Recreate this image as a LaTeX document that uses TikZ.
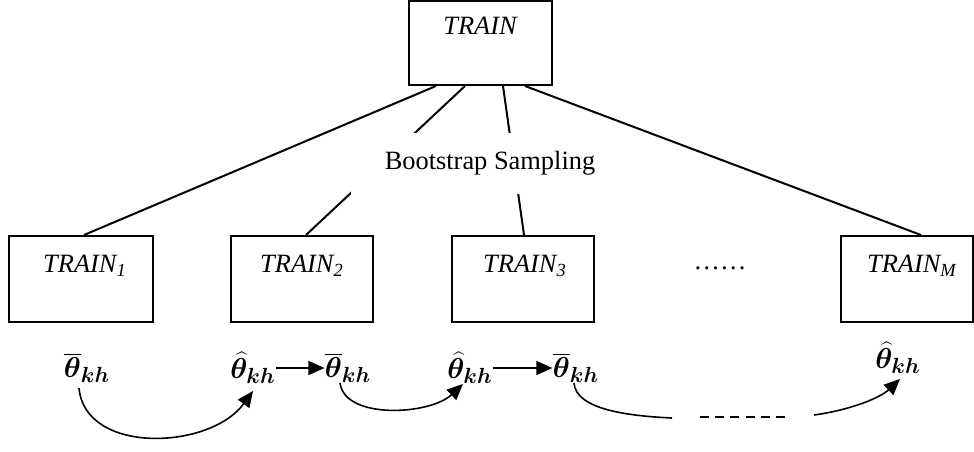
\documentclass[tikz,border=0pt]{standalone}
\usepackage{fontspec}
\setmainfont{Liberation Serif}
\usepackage{bm}
\usetikzlibrary{arrows.meta,calc,backgrounds}
\newcommand{\subkh}{\mbox{\fontsize{10.5}{12}\selectfont$\bm{kh}$}}
\newcommand{\thbar}{$\bm{\overline{\theta}}_{\subkh}$}
\newcommand{\thhat}{$\bm{\widehat{\theta}}_{\subkh}$}
\begin{document}
\begin{tikzpicture}[x=0.5pt,y=-0.5pt,
 box/.style={draw,line width=1pt,inner sep=0pt,minimum height=43pt},
 lbl/.style={font=\fontsize{13.2}{15}\selectfont\itshape,inner sep=0pt},
 conn/.style={line width=1pt},
 th/.style={inner sep=0pt,font=\fontsize{14.5}{17}\selectfont},
 arr/.style={line width=0.8pt,-{Triangle[length=8pt,width=7pt]}}]
\useasboundingbox (0,0) rectangle (974,451);
% boxes
\node[box,minimum width=71.5pt,minimum height=42pt] (top) at (480.5,43) {};
\node[box,minimum width=72pt] (b1) at (81,279) {};
\node[box,minimum width=71pt] (b2) at (302,279) {};
\node[box,minimum width=71pt] (b3) at (523,279) {};
\node[box,minimum width=66pt] (bm) at (907,279) {};
% labels
\node[lbl] (ltop) at (480,26) {TRAIN};
\node[lbl] (l1) at (85,266) {TRAIN\textsubscript{1}};
\node[lbl] (l2) at (302,266) {TRAIN\textsubscript{2}};
\node[lbl] (l3) at (525,266) {TRAIN\textsubscript{3}};
\node[lbl] (lm) at (912,266) {TRAIN\textsubscript{M}};
\node[lbl,font=\fontsize{13.2}{15}\selectfont] (dots) at (720,268) {……};
% bootstrap label, white box hides the lines behind
\node[fill=white,inner sep=0pt,minimum width=139pt,minimum height=30.5pt,
      font=\fontsize{13.2}{15}\selectfont] (bs) at (490,163.5) {\raisebox{2pt}{Bootstrap Sampling}};
\begin{scope}[on background layer]
\draw[conn] ($(top.south west)+(28,0)$) -- ($(b1.north west)+(76,0)$);
\draw[conn] ($(top.south west)+(57,0)$) -- ($(b2.north west)+(76,0)$);
\draw[conn] ($(top.south west)+(95,0)$) -- ($(b3.north west)+(73,0)$);
\draw[conn] ($(top.south west)+(117,0)$) -- ($(bm.north west)+(81,0)$);
\end{scope}
% thetas
\node[th] (t1) at (87,368) {\thbar};
\node[th] (t2) at (253,368) {\thhat};
\node[th] (t3) at (348,368) {\thbar};
\node[th] (t4) at (470,368) {\thhat};
\node[th] (t5) at (576,368) {\thbar};
\node[th] (tm) at (898,358) {\thhat};
% straight arrows
\draw[arr] (t2) -- (t3);
\draw[arr] (t4) -- (t5);
% curved arrows
\draw[arr] ($(t1.south)+(-8,5)$) .. controls (85,455) and (210,450) .. ($(t2.south)+(0,7)$);
\draw[arr] ($(t3.south)+(-8,0)$) .. controls (345,420) and (430,415) .. ($(t4.south)+(-7,0)$);
\coordinate (c1) at (672,418);
\coordinate (c2) at (700,417);
\coordinate (c3) at (785,417);
\coordinate (c4) at (814,415);
\draw[line width=0.8pt] ($(t5.south)+(-2,0)$) .. controls (576,410) and (630,416) .. (c1);
\draw[line width=1pt,dash pattern=on 4.5pt off 3.1pt] (c2) -- (c3);
\draw[arr] (c4) .. controls (850,410) and (880,398) .. ($(tm.south)+(2,5)$);
\end{tikzpicture}
\end{document}
